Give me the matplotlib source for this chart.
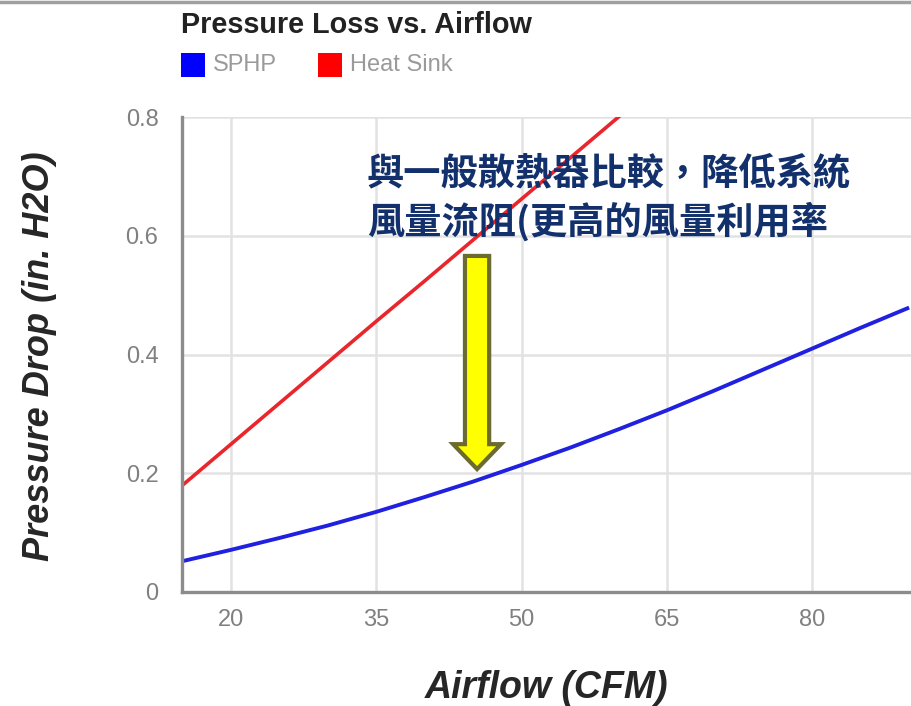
import matplotlib
matplotlib.use("Agg")
import matplotlib.pyplot as plt
from matplotlib.patches import FancyArrow, Rectangle
from matplotlib.lines import Line2D

# ---- data ----
airflow_sphp = [15, 20, 25, 30, 35, 40, 45, 50, 55, 60, 65, 70, 75, 80, 85, 90]
sphp = [0.052, 0.071, 0.091, 0.112, 0.135, 0.160, 0.186, 0.214, 0.243, 0.274,
        0.306, 0.340, 0.375, 0.410, 0.445, 0.479]
airflow_hs = [15, 20, 25, 30, 35, 40, 45, 50, 55, 60, 65]
heat_sink = [0.180, 0.249, 0.318, 0.387, 0.456, 0.524, 0.593, 0.662, 0.731, 0.800, 0.869]
x_ticks = [20, 35, 50, 65, 80]
y_ticks = [0, 0.2, 0.4, 0.6, 0.8]
y_ticklabels = ["0", "0.2", "0.4", "0.6", "0.8"]
title = "Pressure Loss vs. Airflow"
series_names = ["SPHP", "Heat Sink"]
series_colors = ["#0000ff", "#ff0000"]
annotation = "與一般散熱器比較，降低系統\n風量流阻(更高的風量利用率"

W, H = 912, 706
fig = plt.figure(figsize=(W / 100, H / 100), dpi=100)
fig.patch.set_facecolor("white")

ax = fig.add_axes([182 / W, 1 - 592 / H, (912 - 182) / W, (592 - 117) / H])
ax.set_xlim(14.94, 90.3)
ax.set_ylim(0, 0.8)

ax.plot(airflow_hs, heat_sink, color="#e8262c", lw=2.6, solid_capstyle="butt", zorder=3)
ax.plot(airflow_sphp, sphp, color="#2020e0", lw=2.8, solid_capstyle="butt", zorder=3)

ax.set_xticks(x_ticks)
ax.set_yticks(y_ticks)
ax.set_yticklabels(y_ticklabels)
ax.tick_params(length=0, labelsize=17, labelcolor="#808080", pad=12)
ax.tick_params(axis="y", pad=17)
for lab in ax.get_xticklabels() + ax.get_yticklabels():
    lab.set_family("Liberation Sans")
ax.grid(True, color="#e2e2e2", lw=1.8, zorder=0)
ax.set_axisbelow(True)
for s in ["top", "right"]:
    ax.spines[s].set_visible(False)
for s in ["left", "bottom"]:
    ax.spines[s].set_color("#8c8c8c")
    ax.spines[s].set_linewidth(2.4)
    ax.spines[s].set_zorder(4)

ax.set_xlabel("Airflow (CFM)", fontsize=27, fontweight="bold", style="italic",
              family="Liberation Sans", color="#262626", labelpad=28)
fig.text(40 / W, 1 - 356 / H, "Pressure Drop (in. H2O)", rotation=90, fontsize=26,
         fontweight="bold", style="italic", family="Liberation Sans", color="#262626",
         ha="center", va="center")

# title & legend
fig.text(181 / W, 1 - 33 / H, title, fontsize=20.7, fontweight="bold",
         family="Liberation Sans", color="#222222", ha="left", va="baseline")
leg_x = [181, 318]
for i, (name, col) in enumerate(zip(series_names, series_colors)):
    fig.patches.append(Rectangle((leg_x[i] / W, 1 - 77 / H), 24 / W, 24 / H,
                                 transform=fig.transFigure, facecolor=col,
                                 edgecolor="none"))
    fig.text((leg_x[i] + 32) / W, 1 - 65 / H, name, fontsize=17,
             family="Liberation Sans", color="#9a9a9a", ha="left", va="center")

# top border line
fig.add_artist(Line2D([0, 1], [1 - 1.5 / H, 1 - 1.5 / H], transform=fig.transFigure,
                      color="#a0a0a0", lw=2.5))

# annotation text
ax.text(34.0, 0.590, annotation, fontsize=26.8, fontweight="bold",
        family=["Noto Sans CJK TC", "DejaVu Sans"], color="#12306b",
        ha="left", va="bottom", linespacing=1.3, zorder=5)

# arrow
arr = FancyArrow(45.4, 0.566, 0, -0.359, width=2.5, head_width=4.95,
                 head_length=0.042, length_includes_head=True,
                 facecolor="#ffff00", edgecolor="#6b6a30", lw=3,
                 joinstyle="miter", zorder=6)
ax.add_patch(arr)

fig.savefig("out.png", dpi=100)
